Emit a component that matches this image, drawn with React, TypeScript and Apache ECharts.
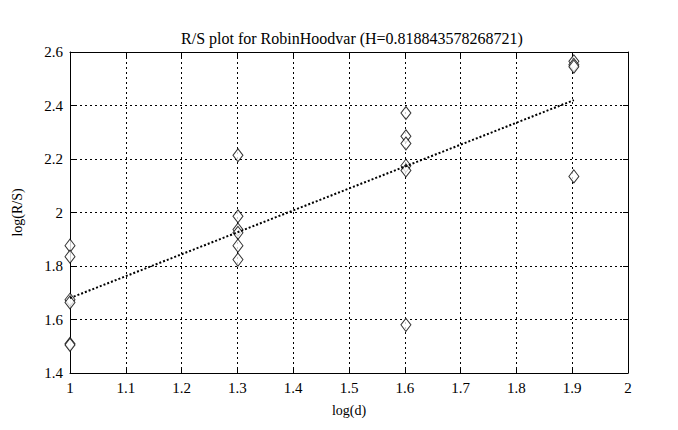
import React, { useEffect, useRef } from "react";
import * as echarts from "echarts";

const titleText = "R/S plot for RobinHoodvar (H=0.818843578268721)";
const logD = [1, 1, 1, 1, 1, 1, 1.301, 1.301, 1.301, 1.301, 1.301, 1.301, 1.602, 1.602, 1.602, 1.602, 1.602, 1.602, 1.903, 1.903, 1.903, 1.903];
const logRS = [1.876, 1.835, 1.674, 1.664, 1.509, 1.505, 2.214, 1.986, 1.936, 1.924, 1.876, 1.824, 2.372, 2.285, 2.258, 2.175, 2.157, 1.58, 2.565, 2.552, 2.545, 2.135];
const fitX = [1, 1.903];
const fitY = [1.68, 2.42];
const xTicks = [1, 1.1, 1.2, 1.3, 1.4, 1.5, 1.6, 1.7, 1.8, 1.9, 2];

const FONT = "Liberation Serif";

export default function App() {
  const ref = useRef<HTMLDivElement>(null);
  useEffect(() => {
    if (!ref.current) return;
    const chart = echarts.init(ref.current, null, { renderer: "svg" });
    const grid = { left: 70, right: 50, top: 52, bottom: 57 };
    const split = { show: true, lineStyle: { color: "#000", type: [2, 3] as any, width: 1 } };
    const axisLine = { show: true, lineStyle: { color: "#000", width: 1 } };
    const tick = { show: true, inside: true, length: 5, lineStyle: { color: "#000" } };
    chart.setOption({
      animation: false,
      backgroundColor: "#fff",
      title: {
        text: titleText,
        left: 347,
        textAlign: "center",
        top: 25,
        textStyle: { fontFamily: FONT, fontSize: 16, fontWeight: "normal", color: "#000" },
      },
      grid,
      xAxis: [
        {
          type: "value",
          min: 1,
          max: 2,
          interval: 0.1,
          name: "log(d)",
          nameLocation: "middle",
          nameGap: 30,
          nameTextStyle: { fontFamily: FONT, fontSize: 14, color: "#000" },
          axisLine,
          axisTick: tick,
          splitLine: split,
          axisLabel: {
            color: "#000",
            fontFamily: FONT,
            fontSize: 15,
            margin: 7,
            formatter: (v: number) => {
              const m = xTicks.find((t) => Math.abs(t - v) < 1e-6);
              return m === undefined ? "" : String(m);
            },
          },
        },
        {
          type: "value",
          position: "top",
          min: 1,
          max: 2,
          interval: 0.1,
          axisLine,
          axisTick: tick,
          axisLabel: { show: false },
          splitLine: { show: false },
        },
      ],
      yAxis: [
        {
          type: "value",
          min: 1.4,
          max: 2.6,
          interval: 0.2,
          name: "log(R/S)",
          nameLocation: "middle",
          nameGap: 46,
          nameRotate: 90,
          nameTextStyle: { fontFamily: FONT, fontSize: 14, color: "#000" },
          axisLine,
          axisTick: tick,
          splitLine: split,
          axisLabel: {
            color: "#000",
            fontFamily: FONT,
            fontSize: 15,
            margin: 7,
            formatter: (v: number) => String(Math.round(v * 10) / 10),
          },
        },
        {
          type: "value",
          position: "right",
          min: 1.4,
          max: 2.6,
          interval: 0.2,
          axisLine,
          axisTick: tick,
          axisLabel: { show: false },
          splitLine: { show: false },
        },
      ],
      series: [
        {
          type: "scatter",
          data: logD.map((x, i) => [x, logRS[i]]),
          symbol: "diamond",
          symbolSize: [10, 13],
          itemStyle: { color: "#fff", borderColor: "#000", borderWidth: 1 },
          z: 3,
        },
        {
          type: "line",
          data: fitX.map((x, i) => [x, fitY[i]]),
          symbol: "none",
          lineStyle: { color: "#000", width: 2, type: [2, 2] as any },
          z: 4,
        },
      ],
    });
    return () => chart.dispose();
  }, []);
  return <div ref={ref} style={{ width: 678, height: 430, position: "absolute", left: 0, top: 0 }} />;
}
